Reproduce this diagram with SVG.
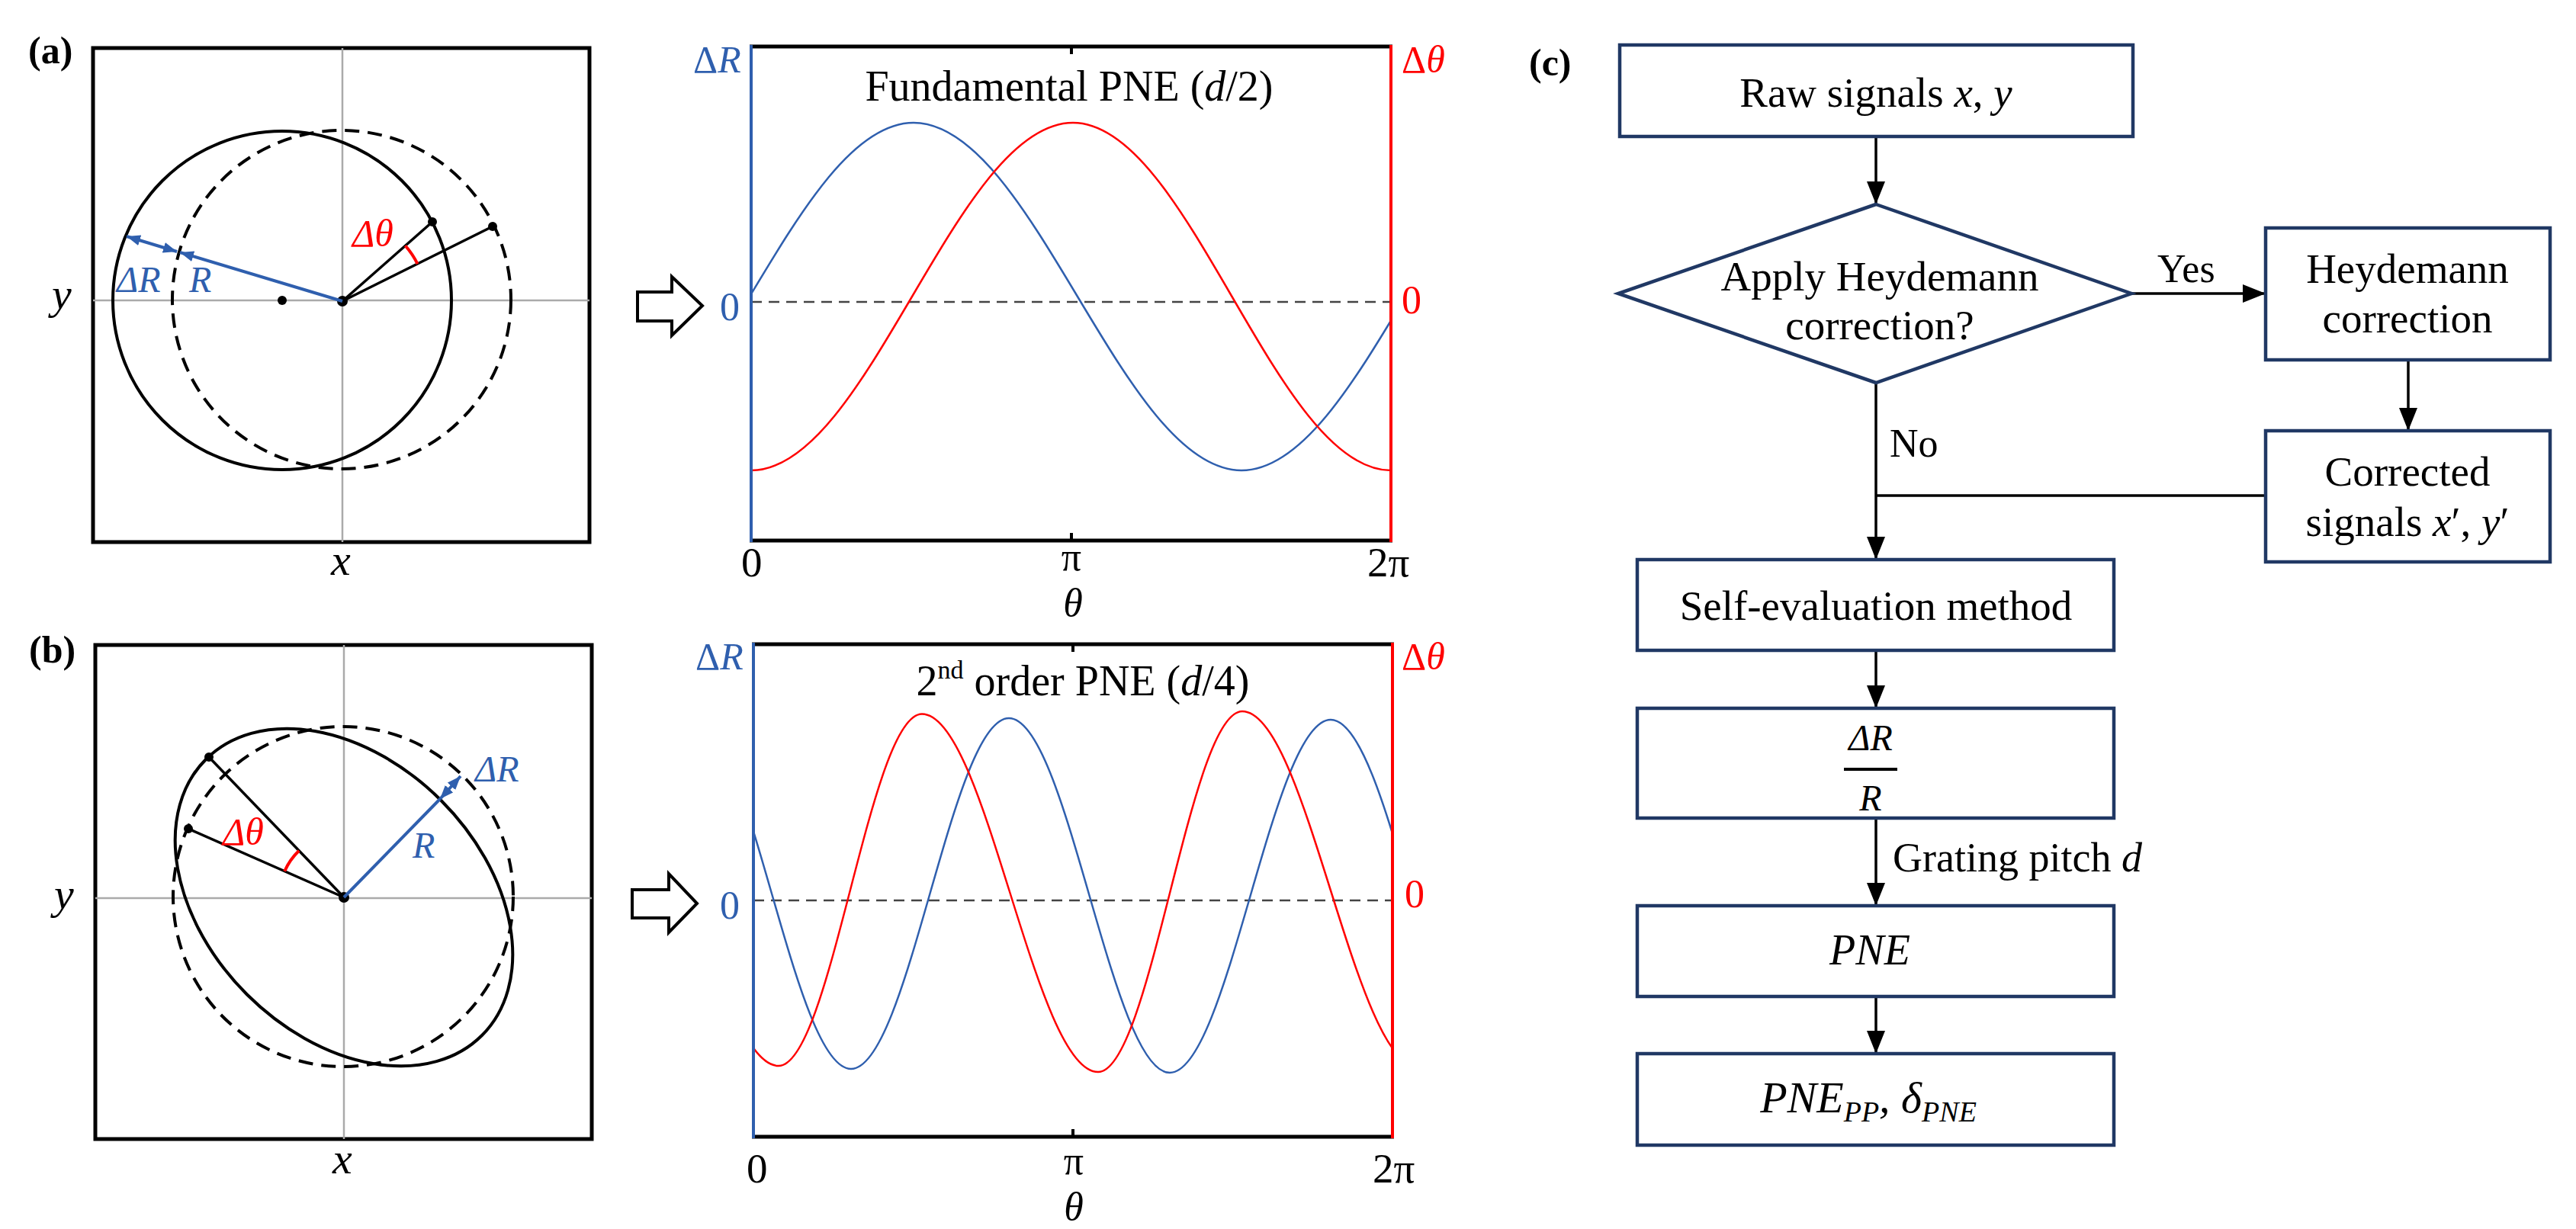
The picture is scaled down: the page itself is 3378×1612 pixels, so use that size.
<svg xmlns="http://www.w3.org/2000/svg" width="3378" height="1612" viewBox="0 0 3378 1612">
<style>
text{font-family:"Liberation Serif","Times New Roman",serif;fill:#000}
.it{font-style:italic}
.lab{font-weight:bold;font-size:50px}
.fc{font-size:55px}
.frame{fill:none;stroke:#000;stroke-width:5}
.gax{stroke:#aaa;stroke-width:2.5;fill:none}
.solid{fill:none;stroke:#000;stroke-width:4}
.dash{fill:none;stroke:#000;stroke-width:4;stroke-dasharray:19 11}
.bl{stroke:#2F5FAE;stroke-width:4;fill:none}
.blt{fill:#2F5FAE}
.rdt{fill:#FF0000}
.blk{stroke:#000;stroke-width:3.5;fill:none}
.dot{fill:#000}
.cb{fill:none;stroke:#2F5FAE;stroke-width:2.5}
.cr{fill:none;stroke:#FF0000;stroke-width:2.5}
.zero{stroke:#444;stroke-width:2.5;stroke-dasharray:14 9}
.box{fill:#fff;stroke:#203864;stroke-width:4.5}
.con{stroke:#000;stroke-width:3.5;fill:none}
.barrow{fill:#fff;stroke:#000;stroke-width:4;stroke-linejoin:miter}
</style>
<defs>
<marker id="ah" markerUnits="userSpaceOnUse" markerWidth="30" markerHeight="24" refX="30" refY="12" orient="auto"><path d="M0,0 L30,12 L0,24 Z" fill="#000"/></marker>
<marker id="bah" markerUnits="userSpaceOnUse" markerWidth="18" markerHeight="14" refX="18" refY="7" orient="auto-start-reverse"><path d="M0,0 L18,7 L0,14 Z" fill="#2F5FAE"/></marker>
<clipPath id="clipA"><rect x="985" y="61" width="839" height="648"/></clipPath>
<clipPath id="clipB"><rect x="988" y="845" width="838" height="646"/></clipPath>
</defs>

<!-- Panel (a) geometry -->
<g id="panel-a-circle">
<text class="lab" x="37" y="83">(a)</text>
<rect class="frame" x="122" y="63" width="651" height="648"/>
<line class="gax" x1="449" y1="63" x2="449" y2="711"/>
<line class="gax" x1="122" y1="394" x2="773" y2="394"/>
<circle class="dash" cx="448" cy="393" r="222"/>
<circle class="solid" cx="370" cy="394" r="222"/>
<line class="blk" x1="449" y1="395" x2="567" y2="291"/>
<line class="blk" x1="449" y1="395" x2="646" y2="297"/>
<circle class="dot" cx="567" cy="291" r="6"/>
<circle class="dot" cx="646" cy="297" r="6"/>
<circle class="dot" cx="370" cy="394" r="6"/>
<circle class="dot" cx="449" cy="395" r="7"/>
<path d="M531.5 322.2 A110 110 0 0 1 547.5 346.1" fill="none" stroke="#FF0000" stroke-width="4"/>
<line class="bl" x1="449" y1="395" x2="236" y2="331" marker-end="url(#bah)"/>
<line class="bl" x1="166" y1="310" x2="232" y2="330" marker-start="url(#bah)" marker-end="url(#bah)"/>
<text class="it blt" x="153" y="383" font-size="48">ΔR</text>
<text class="it blt" x="248" y="383" font-size="48">R</text>
<text class="it rdt" x="462" y="323" font-size="50">Δθ</text>
<text class="it" x="68" y="405" font-size="58">y</text>
<text class="it" x="434" y="754" font-size="58">x</text>
</g>

<!-- Panel (b) geometry -->
<g id="panel-b-circle">
<text class="lab" x="38" y="869">(b)</text>
<rect class="frame" x="125" y="846" width="651" height="648"/>
<line class="gax" x1="451" y1="846" x2="451" y2="1494"/>
<line class="gax" x1="125" y1="1178" x2="776" y2="1178"/>
<circle class="dash" cx="450" cy="1176" r="223"/>
<ellipse class="solid" cx="451" cy="1177" rx="256" ry="180" transform="rotate(45 451 1177)"/>
<line class="blk" x1="451" y1="1177" x2="274" y2="993"/>
<line class="blk" x1="451" y1="1177" x2="247" y2="1087"/>
<circle class="dot" cx="274" cy="993" r="6"/>
<circle class="dot" cx="247" cy="1087" r="6"/>
<circle class="dot" cx="451" cy="1177" r="7"/>
<path d="M373.2 1142.7 A85 85 0 0 1 392.1 1115.7" fill="none" stroke="#FF0000" stroke-width="4"/>
<line class="bl" x1="451" y1="1177" x2="577" y2="1048"/>
<line class="bl" x1="577" y1="1048" x2="604" y2="1018" marker-start="url(#bah)" marker-end="url(#bah)"/>
<text class="it blt" x="623" y="1025" font-size="48">ΔR</text>
<text class="it blt" x="541" y="1125" font-size="48">R</text>
<text class="it rdt" x="292" y="1108" font-size="50">Δθ</text>
<text class="it" x="71" y="1192" font-size="58">y</text>
<text class="it" x="436" y="1539" font-size="58">x</text>
</g>

<!-- Block arrows -->
<g id="arrow-a"><path class="barrow" d="M836,383 L881,383 L881,363 L921,401 L881,440 L881,421 L836,421 Z"/></g>
<g id="arrow-b"><path class="barrow" d="M829,1167 L877,1167 L877,1146 L914,1185 L877,1223 L877,1204 L829,1204 Z"/></g>

<!-- Plot (a) -->
<g id="plot-a">
<line class="zero" x1="985" y1="396" x2="1824" y2="396"/>
<g clip-path="url(#clipA)">
<path class="cb" d="M768 617 C924.5 617 1041.5 161 1198 161 C1354.5 161 1471.5 617 1628 617 C1784.5 617 1901.5 161 2058 161"/>
<path class="cr" d="M985 617 C1138.6 617 1253.4 161 1407 161 C1559 161 1672 617 1824 617"/>
</g>
<line x1="983" y1="61" x2="1826" y2="61" stroke="#000" stroke-width="5"/>
<line x1="983" y1="709" x2="1826" y2="709" stroke="#000" stroke-width="5"/>
<line x1="1405" y1="61" x2="1405" y2="71" stroke="#000" stroke-width="4"/>
<line x1="1405" y1="709" x2="1405" y2="699" stroke="#000" stroke-width="4"/>
<line x1="985" y1="59" x2="985" y2="711" stroke="#2F5FAE" stroke-width="4"/>
<line x1="1824" y1="59" x2="1824" y2="711" stroke="#FF0000" stroke-width="4"/>
<text class="blt" x="909" y="95" font-size="50">Δ<tspan class="it">R</tspan></text>
<text class="rdt" x="1838" y="95" font-size="50">Δ<tspan class="it">θ</tspan></text>
<text class="blt" x="944" y="420" font-size="52">0</text>
<text class="rdt" x="1838" y="411" font-size="52">0</text>
<text x="1402" y="132" font-size="56" text-anchor="middle">Fundamental PNE (<tspan class="it">d</tspan>/2)</text>
<text x="972" y="756" font-size="55">0</text>
<text x="1405" y="748" font-size="52" text-anchor="middle">π</text>
<text x="1793" y="756" font-size="55">2π</text>
<text class="it" x="1407" y="808" font-size="52" text-anchor="middle">θ</text>
</g>

<!-- Plot (b) -->
<g id="plot-b">
<line class="zero" x1="988" y1="1181" x2="1826" y2="1181"/>
<g clip-path="url(#clipB)">
<path class="cb" d="M908 942 C983.7 942 1040.3 1402 1116 1402 C1191.3 1402 1247.7 942 1323 942 C1399.8 942 1457.2 1407 1534 1407 C1610.8 1407 1668.2 944 1745 944 C1821.4 944 1878.6 1404 1955 1404"/>
<path class="cr" d="M790 935 C874 935 937 1398 1021 1398 C1089.4 1398 1140.6 936.5 1209 936.5 C1293.1 936.5 1355.9 1406 1440 1406 C1508.8 1406 1560.2 933 1629 933 C1713.1 933 1775.9 1400 1860 1400"/>
</g>
<line x1="986" y1="845" x2="1828" y2="845" stroke="#000" stroke-width="5"/>
<line x1="986" y1="1491" x2="1828" y2="1491" stroke="#000" stroke-width="5"/>
<line x1="1407" y1="845" x2="1407" y2="855" stroke="#000" stroke-width="4"/>
<line x1="1407" y1="1491" x2="1407" y2="1481" stroke="#000" stroke-width="4"/>
<line x1="988" y1="843" x2="988" y2="1493" stroke="#2F5FAE" stroke-width="4"/>
<line x1="1826" y1="843" x2="1826" y2="1493" stroke="#FF0000" stroke-width="4"/>
<text class="blt" x="912" y="878" font-size="50">Δ<tspan class="it">R</tspan></text>
<text class="rdt" x="1838" y="878" font-size="50">Δ<tspan class="it">θ</tspan></text>
<text class="blt" x="944" y="1205" font-size="52">0</text>
<text class="rdt" x="1842" y="1190" font-size="52">0</text>
<text x="1420" y="912" font-size="56" text-anchor="middle">2<tspan font-size="34" dy="-22">nd</tspan><tspan dy="22"> order PNE (</tspan><tspan class="it">d</tspan>/4)</text>
<text x="979" y="1551" font-size="55">0</text>
<text x="1408" y="1540" font-size="52" text-anchor="middle">π</text>
<text x="1800" y="1551" font-size="55">2π</text>
<text class="it" x="1408" y="1600" font-size="52" text-anchor="middle">θ</text>
</g>

<!-- Flowchart (c) -->
<text class="lab" x="2005" y="99">(c)</text>
<g id="connectors">
<line class="con" x1="2460" y1="179" x2="2460" y2="268" marker-end="url(#ah)"/>
<line class="con" x1="2795" y1="385" x2="2971" y2="385" marker-end="url(#ah)"/>
<line class="con" x1="3158" y1="472" x2="3158" y2="565" marker-end="url(#ah)"/>
<line class="con" x1="2460" y1="502" x2="2460" y2="734" marker-end="url(#ah)"/>
<line class="con" x1="2971" y1="650" x2="2460" y2="650"/>
<line class="con" x1="2460" y1="853" x2="2460" y2="929" marker-end="url(#ah)"/>
<line class="con" x1="2460" y1="1073" x2="2460" y2="1188" marker-end="url(#ah)"/>
<line class="con" x1="2460" y1="1307" x2="2460" y2="1382" marker-end="url(#ah)"/>
<text x="2829" y="370" font-size="52">Yes</text>
<text x="2478" y="599" font-size="52">No</text>
<text x="2482" y="1143" font-size="54">Grating pitch <tspan class="it">d</tspan></text>
</g>
<g id="node-raw">
<rect class="box" x="2124" y="59" width="673" height="120"/>
<text class="fc" x="2460" y="140" text-anchor="middle">Raw signals <tspan class="it">x</tspan>, <tspan class="it">y</tspan></text>
</g>
<g id="node-decision">
<polygon class="box" points="2460,268 2795,385 2460,502 2122,385"/>
<text class="fc" x="2465" y="381" text-anchor="middle">Apply Heydemann</text>
<text class="fc" x="2465" y="445" text-anchor="middle">correction?</text>
</g>
<g id="node-heydemann">
<rect class="box" x="2971" y="299" width="373" height="173"/>
<text class="fc" x="3157" y="371" text-anchor="middle">Heydemann</text>
<text class="fc" x="3157" y="436" text-anchor="middle">correction</text>
</g>
<g id="node-corrected">
<rect class="box" x="2971" y="565" width="373" height="172"/>
<text class="fc" x="3157" y="637" text-anchor="middle">Corrected</text>
<text class="fc" x="3157" y="703" text-anchor="middle">signals <tspan class="it">x</tspan>′, <tspan class="it">y</tspan>′</text>
</g>
<g id="node-selfeval">
<rect class="box" x="2147" y="734" width="625" height="119"/>
<text class="fc" x="2460" y="813" text-anchor="middle">Self-evaluation method</text>
</g>
<g id="node-ratio">
<rect class="box" x="2147" y="929" width="625" height="144"/>
<text class="it" x="2453" y="984" font-size="48" text-anchor="middle">ΔR</text>
<line x1="2418" y1="1009" x2="2488" y2="1009" stroke="#000" stroke-width="4"/>
<text class="it" x="2453" y="1063" font-size="48" text-anchor="middle">R</text>
</g>
<g id="node-pne">
<rect class="box" x="2147" y="1188" width="625" height="119"/>
<text class="it" x="2452" y="1265" font-size="56" text-anchor="middle">PNE</text>
</g>
<g id="node-result">
<rect class="box" x="2147" y="1382" width="625" height="120"/>
<text class="it" x="2450" y="1459" font-size="58" text-anchor="middle">PNE<tspan font-size="38" dy="12">PP</tspan><tspan dy="-12">, δ</tspan><tspan font-size="38" dy="12">PNE</tspan></text>
</g>
</svg>
